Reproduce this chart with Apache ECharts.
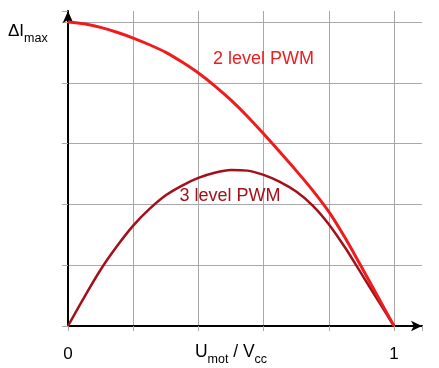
<!DOCTYPE html>
<html><head><meta charset="utf-8">
<script src="https://cdn.jsdelivr.net/npm/echarts@6/dist/echarts.min.js"></script>
<style>html,body{margin:0;padding:0;background:#fff}#c{width:439px;height:368px}</style>
</head><body><div id="c"></div>
<script>
var xValues = [0,0.05,0.1,0.15,0.2,0.25,0.3,0.35,0.4,0.45,0.5,0.55,0.6,0.65,0.7,0.75,0.8,0.85,0.9,0.95,1.0];
var twoLevel = [1.0,0.994,0.982,0.966,0.947,0.925,0.9,0.868,0.832,0.79,0.743,0.69,0.632,0.572,0.511,0.447,0.376,0.29,0.195,0.098,0];
var threeLevel = [0,0.095,0.185,0.262,0.33,0.385,0.43,0.462,0.487,0.504,0.513,0.511,0.497,0.474,0.442,0.397,0.335,0.258,0.172,0.086,0];
var xTickLabels = {0:'0', 1:'1'};
var curveLabels = [
  {name:'2 level PWM', x:0.6, y:0.878},
  {name:'3 level PWM', x:0.497, y:0.429}
];
var FONT = 'Liberation Sans, Arial, sans-serif';
var RED = '#ee1c1c', DARK = '#a3101a', GRID = '#a8a8a8';

function pairs(ys){ return xValues.map(function(x,i){ return [x, ys[i]]; }); }

var chart = echarts.init(document.getElementById('c'), null, {renderer:'canvas'});
chart.setOption({
  animation:false,
  backgroundColor:'#fff',
  title:{
    left:3, top:15,
    text:'{a|ΔI}{b|max}',
    textStyle:{fontWeight:'normal', rich:{
      a:{fontFamily:FONT, fontSize:17, fontWeight:'normal', color:'#000', lineHeight:20, verticalAlign:'bottom'},
      b:{fontFamily:FONT, fontSize:12.5, fontWeight:'normal', color:'#000', lineHeight:20, verticalAlign:'bottom', padding:[0,0,-5,0]}
    }}
  },
  grid:{left:68, top:11, width:354, height:315, containLabel:false, outerBoundsMode:'none'},
  xAxis:{
    type:'value', min:0, max:1.086, interval:0.2,
    axisLine:{show:true, lineStyle:{color:'#000', width:2}, symbol:['none','arrow'], symbolSize:[8,11]},
    axisTick:{show:true, length:5, lineStyle:{color:GRID}},
    splitLine:{show:true, lineStyle:{color:[GRID,GRID,GRID,GRID,GRID,GRID,'rgba(0,0,0,0)'], width:1}},
    axisLabel:{
      margin:20, fontFamily:FONT, fontSize:17, color:'#000',
      formatter:function(v){ var r = Math.round(v*1000)/1000; return xTickLabels[r] !== undefined && Math.abs(v-r)<1e-6 ? xTickLabels[r] : ''; }
    },
    name:'{a|U}{b|mot}{a| / V}{b|cc}',
    nameLocation:'middle', nameGap:15, nameMoveOverlap:false,
    nameTextStyle:{padding:[0,28,0,0], rich:{
      a:{fontFamily:FONT, fontSize:17.5, color:'#000', lineHeight:20, verticalAlign:'bottom'},
      b:{fontFamily:FONT, fontSize:12.5, color:'#000', lineHeight:20, verticalAlign:'bottom', padding:[0,0,-5,0]}
    }}
  },
  yAxis:{
    type:'value', min:0, max:1.036, interval:0.2,
    axisLine:{show:true, lineStyle:{color:'#000', width:2}, symbol:['none','arrow'], symbolSize:[8,12]},
    axisTick:{show:true, length:6, lineStyle:{color:GRID}},
    axisLabel:{show:false},
    splitLine:{show:true, lineStyle:{color:[GRID,GRID,GRID,GRID,GRID,GRID,'rgba(0,0,0,0)'], width:1}}
  },
  series:[
    {
      type:'line', data:pairs(threeLevel), smooth:0.3, symbol:'none',
      lineStyle:{color:DARK, width:2.5}, z:3,
      markPoint:{symbol:'circle', symbolSize:0, data:[{coord:[curveLabels[1].x, curveLabels[1].y], value:curveLabels[1].name}],
        label:{show:true, position:'inside', formatter:function(p){return p.value;}, fontFamily:FONT, fontSize:18, color:DARK}}
    },
    {
      type:'line', data:pairs(twoLevel), smooth:0.3, symbol:'none',
      lineStyle:{color:RED, width:3}, z:4,
      markPoint:{symbol:'circle', symbolSize:0, data:[{coord:[curveLabels[0].x, curveLabels[0].y], value:curveLabels[0].name}],
        label:{show:true, position:'inside', formatter:function(p){return p.value;}, fontFamily:FONT, fontSize:18, color:RED}}
    }
  ]
});
</script></body></html>
